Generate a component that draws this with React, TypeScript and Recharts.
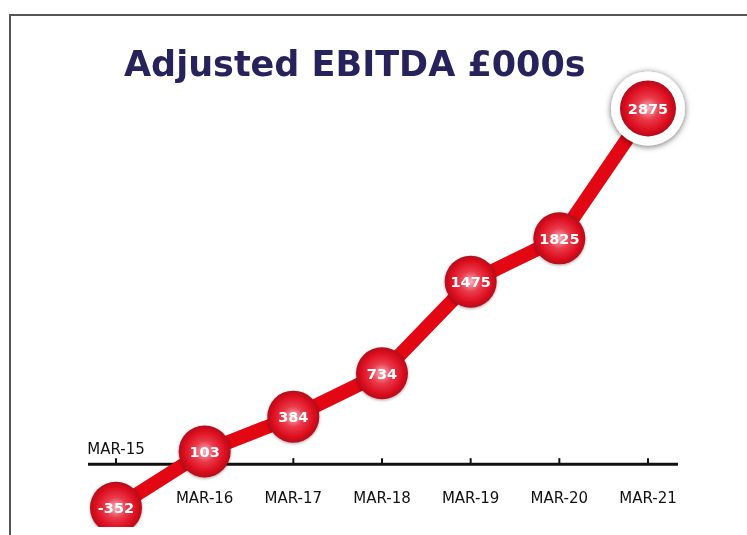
import React from 'react';
import { LineChart, Line, XAxis, YAxis, ReferenceLine, ReferenceDot } from 'recharts';

const periods = ['MAR-15', 'MAR-16', 'MAR-17', 'MAR-18', 'MAR-19', 'MAR-20', 'MAR-21'];
const ebitda = [-352, 103, 384, 734, 1475, 1825, 2875];
const yDomain = [-500, 3000];

const chartData = periods.map((p, i) => ({ period: p, value: ebitda[i] }));

const RED = '#e30613';
const NAVY = '#26235c';

function Marker(props: any) {
  const { cx, cy, index, payload } = props;
  if (cx == null || cy == null) return null;
  const last = index === ebitda.length - 1;
  return (
    <g key={`marker-${index}`}>
      {last && <circle cx={cx} cy={cy} r={37} fill="#fff" filter="url(#ringShadow)" />}
      <circle
        cx={cx}
        cy={cy}
        r={last ? 28 : 26}
        fill="url(#ballFill)"
        filter={last ? undefined : 'url(#ballShadow)'}
      />
      <text
        x={cx}
        y={cy}
        dy="0.36em"
        textAnchor="middle"
        fill="#fff"
        fontSize={14.5}
        fontWeight="bold"
        fontFamily="'DejaVu Sans', sans-serif"
      >
        {payload.value}
      </text>
    </g>
  );
}

function PeriodTick(props: any) {
  const { cx, cy, text, above } = props;
  if (cx == null || cy == null) return null;
  return (
    <g>
      <line x1={cx} x2={cx} y1={cy - 6} y2={cy} stroke="#111" strokeWidth={2} />
      <text
        x={cx}
        y={above ? cy - 16 : cy + 33}
        dy="0.36em"
        textAnchor="middle"
        fill="#111"
        fontSize={15}
        fontFamily="'DejaVu Sans', sans-serif"
      >
        {text}
      </text>
    </g>
  );
}

export default function App() {
  return (
    <div style={{ position: 'relative', width: 731, height: 519 }}>
      <div
        style={{
          position: 'fixed',
          left: 9,
          top: 14,
          right: -20,
          bottom: -20,
          borderTop: '2px solid #555',
          borderLeft: '2px solid #555',
        }}
      />
      <div
        style={{
          position: 'absolute',
          left: 116,
          top: 39,
          fontFamily: "'DejaVu Sans', sans-serif",
          fontWeight: 'bold',
          fontSize: 35,
          lineHeight: '35px',
          color: NAVY,
          whiteSpace: 'nowrap',
        }}
      >
        Adjusted EBITDA £000s
      </div>
      <div style={{ position: 'absolute', left: 0, top: 0 }}>
        <LineChart
          width={731}
          height={519}
          data={chartData}
          margin={{ top: 85, right: 61, bottom: 1, left: 80 }}
        >
          <defs>
            <radialGradient id="ballFill" cx="50%" cy="50%" r="50%">
              <stop offset="0%" stopColor="#f6b3be" />
              <stop offset="40%" stopColor="#ea3a4a" />
              <stop offset="80%" stopColor="#dc0d1e" />
              <stop offset="100%" stopColor="#b20b1a" />
            </radialGradient>
            <filter id="ballShadow" x="-30%" y="-30%" width="160%" height="160%">
              <feDropShadow dx="0" dy="1" stdDeviation="1.5" floodColor="#000" floodOpacity="0.35" />
            </filter>
            <filter id="ringShadow" x="-30%" y="-30%" width="160%" height="160%">
              <feDropShadow dx="0" dy="1" stdDeviation="3" floodColor="#000" floodOpacity="0.6" />
            </filter>
          </defs>
          <XAxis dataKey="period" hide padding={{ left: 28, right: 30 }} />
          <YAxis hide domain={yDomain} type="number" />
          <ReferenceLine y={0} stroke="#111" strokeWidth={3} />
          {periods.map((p, i) => (
            <ReferenceDot
              key={p}
              x={p}
              y={0}
              r={0}
              shape={(sp: any) => <PeriodTick {...sp} text={p} above={ebitda[i] < 0} />}
            />
          ))}
          <Line
            dataKey="value"
            stroke={RED}
            strokeWidth={14}
            strokeLinejoin="round"
            dot={(dp: any) => <Marker key={`m-${dp.index}`} {...dp} />}
            activeDot={false}
            isAnimationActive={false}
          />
        </LineChart>
      </div>
    </div>
  );
}
